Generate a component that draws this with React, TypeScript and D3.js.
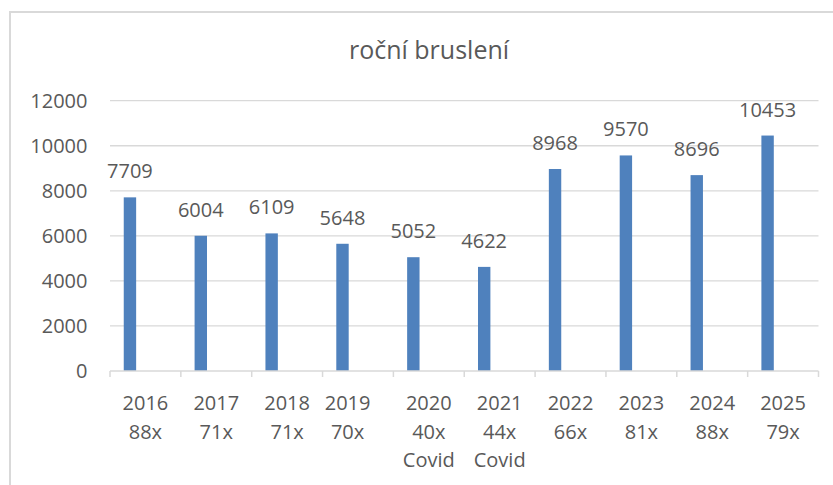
import React from "react";
import * as d3 from "d3";

const years = ["2016", "2017", "2018", "2019", "2020", "2021", "2022", "2023", "2024", "2025"];
const visits = ["88x", "71x", "71x", "70x", "40x", "44x", "66x", "81x", "88x", "79x"];
const notes = ["", "", "", "", "Covid", "Covid", "", "", "", ""];
// 2019 label carries trailing spaces in the source sheet, so it sits left of its slot
const trailing = ["", "", "", "\u00a0\u00a0\u00a0\u00a0", "", "", "", "", "", ""];
const skating = [7709, 6004, 6109, 5648, 5052, 4622, 8968, 9570, 8696, 10453];
const yTicks = [0, 2000, 4000, 6000, 8000, 10000, 12000];

const W = 833;
const H = 485;
const margin = { left: 110, right: 833 - 818.5, top: 100.7, bottom: 485 - 371 };
const textColor = "#595959";
const gridColor = "#d9d9d9";
const font = "'Open Sans', sans-serif";
const fs = 20;

export default function App() {
  const x = d3
    .scaleBand()
    .domain(years)
    .range([margin.left, W - margin.right]);
  const y = d3
    .scaleLinear()
    .domain([0, 12000])
    .range([H - margin.bottom, margin.top]);

  const bw = x.bandwidth();
  const barOff = bw * 0.194;
  const barW = bw * 0.175;

  return (
    <svg
      width={W}
      height={H}
      style={{ position: "absolute", left: 0, top: 0, background: "#fff" }}
      fontFamily={font}
    >
      <rect x={10} y={12} width={1000} height={800} fill="none" stroke={gridColor} strokeWidth={2} />
      <text x={429} y={59} textAnchor="middle" fontSize={25} fill={textColor}>
        roční bruslení
      </text>

      {yTicks.map((t) => (
        <g key={t}>
          {t > 0 && (
            <line x1={margin.left} x2={W - margin.right} y1={y(t)} y2={y(t)} stroke={gridColor} strokeWidth={1.3} />
          )}
          <text x={87.5} y={y(t)} dy="0.36em" textAnchor="end" fontSize={fs} fill={textColor}>
            {t}
          </text>
        </g>
      ))}

      {skating.map((v, i) => (
        <g key={years[i]}>
          <rect
            x={(x(years[i]) as number) + barOff}
            y={y(v)}
            width={barW}
            height={y(0) - y(v)}
            fill="#4f81bd"
          />
          <text
            x={(x(years[i]) as number) + barOff + barW / 2}
            y={y(v) - 19}
            textAnchor="middle"
            fontSize={fs}
            fill={textColor}
          >
            {v}
          </text>
        </g>
      ))}

      <line x1={margin.left} x2={W - margin.right} y1={y(0)} y2={y(0)} stroke={gridColor} strokeWidth={1.5} />
      {d3.range(years.length + 1).map((i) => {
        const tx = margin.left + i * bw;
        return <line key={i} x1={tx} x2={tx} y1={y(0)} y2={y(0) + 6} stroke={gridColor} strokeWidth={1.5} />;
      })}

      {years.map((yr, i) => {
        const cx = (x(yr) as number) + bw / 2;
        return (
          <text key={yr} textAnchor="middle" fontSize={fs} fill={textColor}>
            <tspan x={cx} y={410}>{yr + trailing[i]}</tspan>
            <tspan x={cx} y={438.5}>{visits[i] + trailing[i]}</tspan>
            {notes[i] && (
              <tspan x={cx} y={467}>{notes[i]}</tspan>
            )}
          </text>
        );
      })}
    </svg>
  );
}
